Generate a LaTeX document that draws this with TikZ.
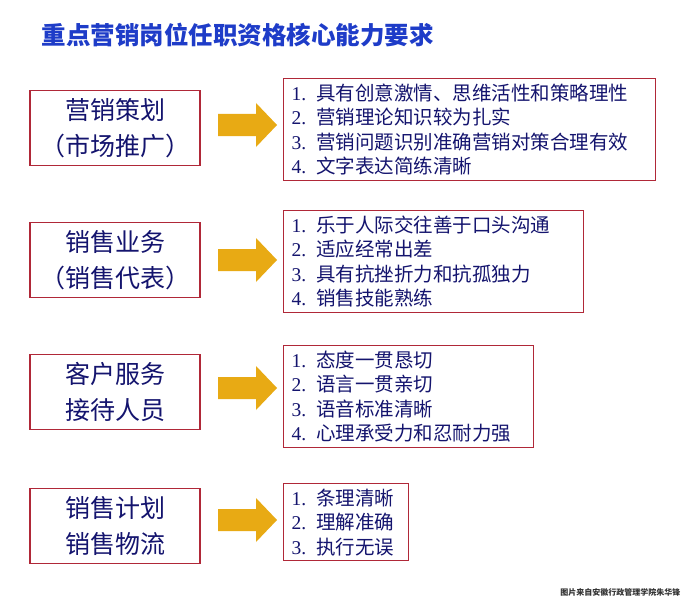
\documentclass[tikz,border=0pt]{standalone}
\usepackage{fontspec}
\setmainfont{Liberation Serif}
\newfontfamily\cjk{Noto Sans CJK SC}
\usetikzlibrary{positioning}
\definecolor{boxred}{RGB}{176,40,56}
\definecolor{navy}{RGB}{20,20,110}
\definecolor{arrowgold}{RGB}{232,170,20}
\definecolor{titleblue}{RGB}{30,60,200}
\tikzset{
	rolebox/.style={draw=boxred,line width=1.3pt,align=center,font=\cjk\fontsize{25}{36}\selectfont,text=navy,minimum width=170pt,minimum height=75pt,inner sep=0pt},
	skillbox/.style={draw=boxred,line width=1.3pt,align=left,anchor=north west,font=\fontsize{19.5}{24.5}\selectfont,text=navy,inner xsep=8pt,inner ysep=5pt},
	goarrow/.style={fill=arrowgold,draw=none}
}
\newcommand{\zh}[1]{{\cjk #1}}
\begin{document}
\begin{tikzpicture}[x=1pt,y=-1pt]
	\useasboundingbox[fill=white] (0,0) rectangle (690,607);
	
	\node[anchor=west,text=titleblue,font=\cjk\bfseries\fontsize{24.5}{28}\selectfont] (title) at (38,35) {重点营销岗位任职资格核心能力要求};
	
	%---------------------------------------------
	
	\node[rolebox] (r1) at (115,128) {营销策划\\（市场推广）};
	\node[rolebox] (r2) at (115,260) {销售业务\\（销售代表）};
	\node[rolebox] (r3) at (115,392) {客户服务\\接待人员};
	\node[rolebox] (r4) at (115,526) {销售计划\\销售物流};
	
	%---------------------------------------------
	
	\node[skillbox,text width=356pt] (s1) at (283,78) {1. \zh{具有创意激情、思维活性和策略理性}\\2. \zh{营销理论知识较为扎实}\\3. \zh{营销问题识别准确营销对策合理有效}\\4. \zh{文字表达简练清晰}};
	\node[skillbox,text width=284pt] (s2) at (283,210) {1. \zh{乐于人际交往善于口头沟通}\\2. \zh{适应经常出差}\\3. \zh{具有抗挫折力和抗孤独力}\\4. \zh{销售技能熟练}};
	\node[skillbox,text width=234pt] (s3) at (283,345) {1. \zh{态度一贯恳切}\\2. \zh{语言一贯亲切}\\3. \zh{语音标准清晰}\\4. \zh{心理承受力和忍耐力强}};
	\node[skillbox,text width=109pt] (s4) at (283,483) {1. \zh{条理清晰}\\2. \zh{理解准确}\\3. \zh{执行无误}};
	
	%---------------------------------------------
	
	\foreach \y in {125,260,388,520} {
		\fill[goarrow] (218,\y-11) -- (256,\y-11) -- (256,\y-22) -- (277,\y)
			-- (256,\y+22) -- (256,\y+11) -- (218,\y+11) -- cycle;
	}
	
	\node[anchor=south east,font=\cjk\bfseries\fontsize{8}{9}\selectfont,text=black!80] (credit) at (684,600) {图片来自安徽行政管理学院朱华锋};
\end{tikzpicture}
\end{document}
